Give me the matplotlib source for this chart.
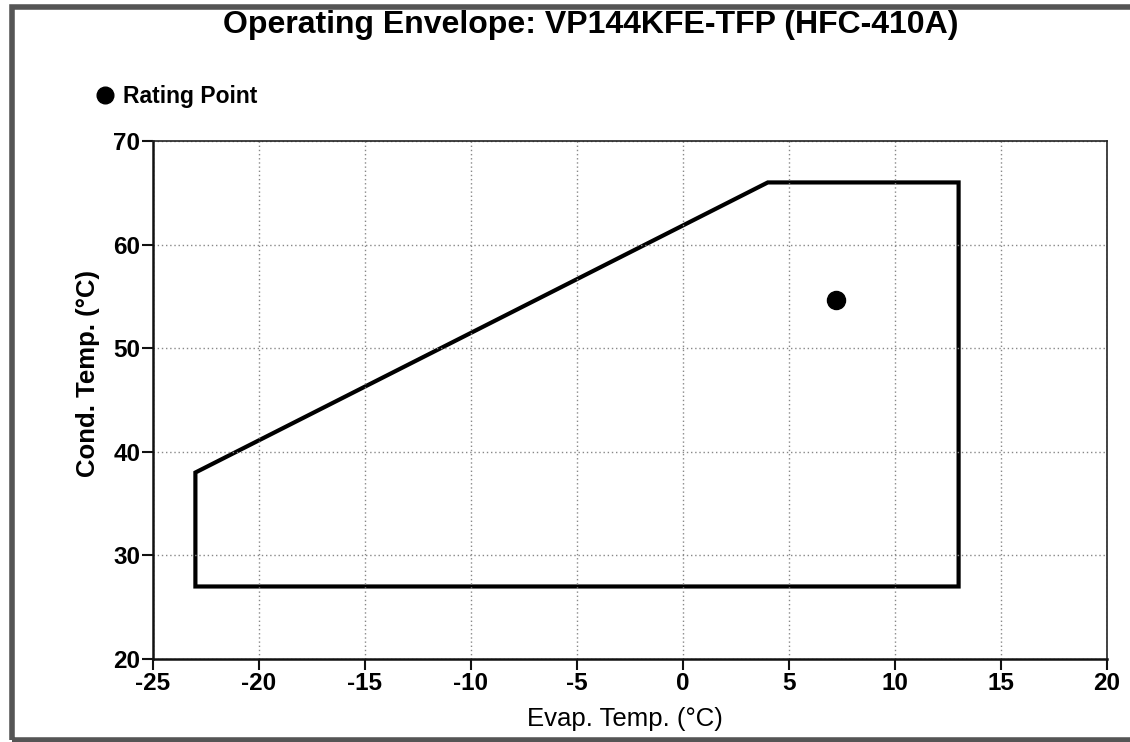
import matplotlib
matplotlib.use('Agg')
import matplotlib.pyplot as plt
from matplotlib.patches import Rectangle

plt.rcParams['font.family'] = ['Liberation Sans', 'DejaVu Sans']
plt.rcParams['axes.unicode_minus'] = False

# envelope corners (evap, cond)
envelope_evap = [-23, -23, 4, 13, 13]
envelope_cond = [27, 38, 66, 66, 27]

rating_evap = [7.2]
rating_cond = [54.7]

x_ticks = [-25, -20, -15, -10, -5, 0, 5, 10, 15, 20]
y_ticks = [20, 30, 40, 50, 60, 70]


def main():
    fig = plt.figure(figsize=(11.3, 7.42), dpi=100)
    ax = fig.add_axes([153 / 1130, 1 - 659 / 742, 954 / 1130, 518 / 742])

    ax.fill(envelope_evap, envelope_cond, fill=False, edgecolor='black',
            linewidth=3, joinstyle='miter')
    ax.plot(rating_evap, rating_cond, 'o', color='black', markersize=13)

    ax.set_xlim(-25, 20)
    ax.set_ylim(20, 70)
    ax.set_xticks(x_ticks)
    ax.set_yticks(y_ticks)
    ax.grid(True, color='#888888', linestyle=(0, (1, 2)), linewidth=1)

    for side in ['top', 'right']:
        ax.spines[side].set_color('#222222')
        ax.spines[side].set_linewidth(1.2)
    for side in ['left', 'bottom']:
        ax.spines[side].set_color('#111111')
        ax.spines[side].set_linewidth(1.8)

    ax.tick_params(direction='out', length=8, width=1.5, color='#111111',
                   labelsize=17.5, pad=1)
    for lbl in ax.get_xticklabels() + ax.get_yticklabels():
        lbl.set_fontweight('bold')

    ax.set_xlabel('Evap. Temp. (°C)', fontsize=18.5)
    ax.xaxis.set_label_coords(0.495, -0.093)
    ax.set_ylabel('Cond. Temp. (°C)', fontsize=18.5, fontweight='bold')
    ax.yaxis.set_label_coords(-0.056, 0.552)

    fig.text(0.523, 1 - 25 / 742, 'Operating Envelope: VP144KFE-TFP (HFC-410A)',
             ha='center', va='center', fontsize=23, fontweight='bold')

    # legend entry
    fig.lines.append(plt.Line2D([105 / 1130], [1 - 95 / 742], marker='o',
                                color='black', markersize=12, linestyle='none',
                                transform=fig.transFigure))
    fig.text(123 / 1130, 1 - 96 / 742, 'Rating Point', ha='left', va='center',
             fontsize=16.5, fontweight='bold')

    # outer frame
    fig.patches.append(Rectangle((12 / 1130, 2 / 742), 1200 / 1130, 733 / 742,
                                 transform=fig.transFigure, fill=False,
                                 edgecolor='#555555', linewidth=4))

    plt.savefig('out.png', dpi=100)
    plt.close()


if __name__ == "__main__":
    main()
